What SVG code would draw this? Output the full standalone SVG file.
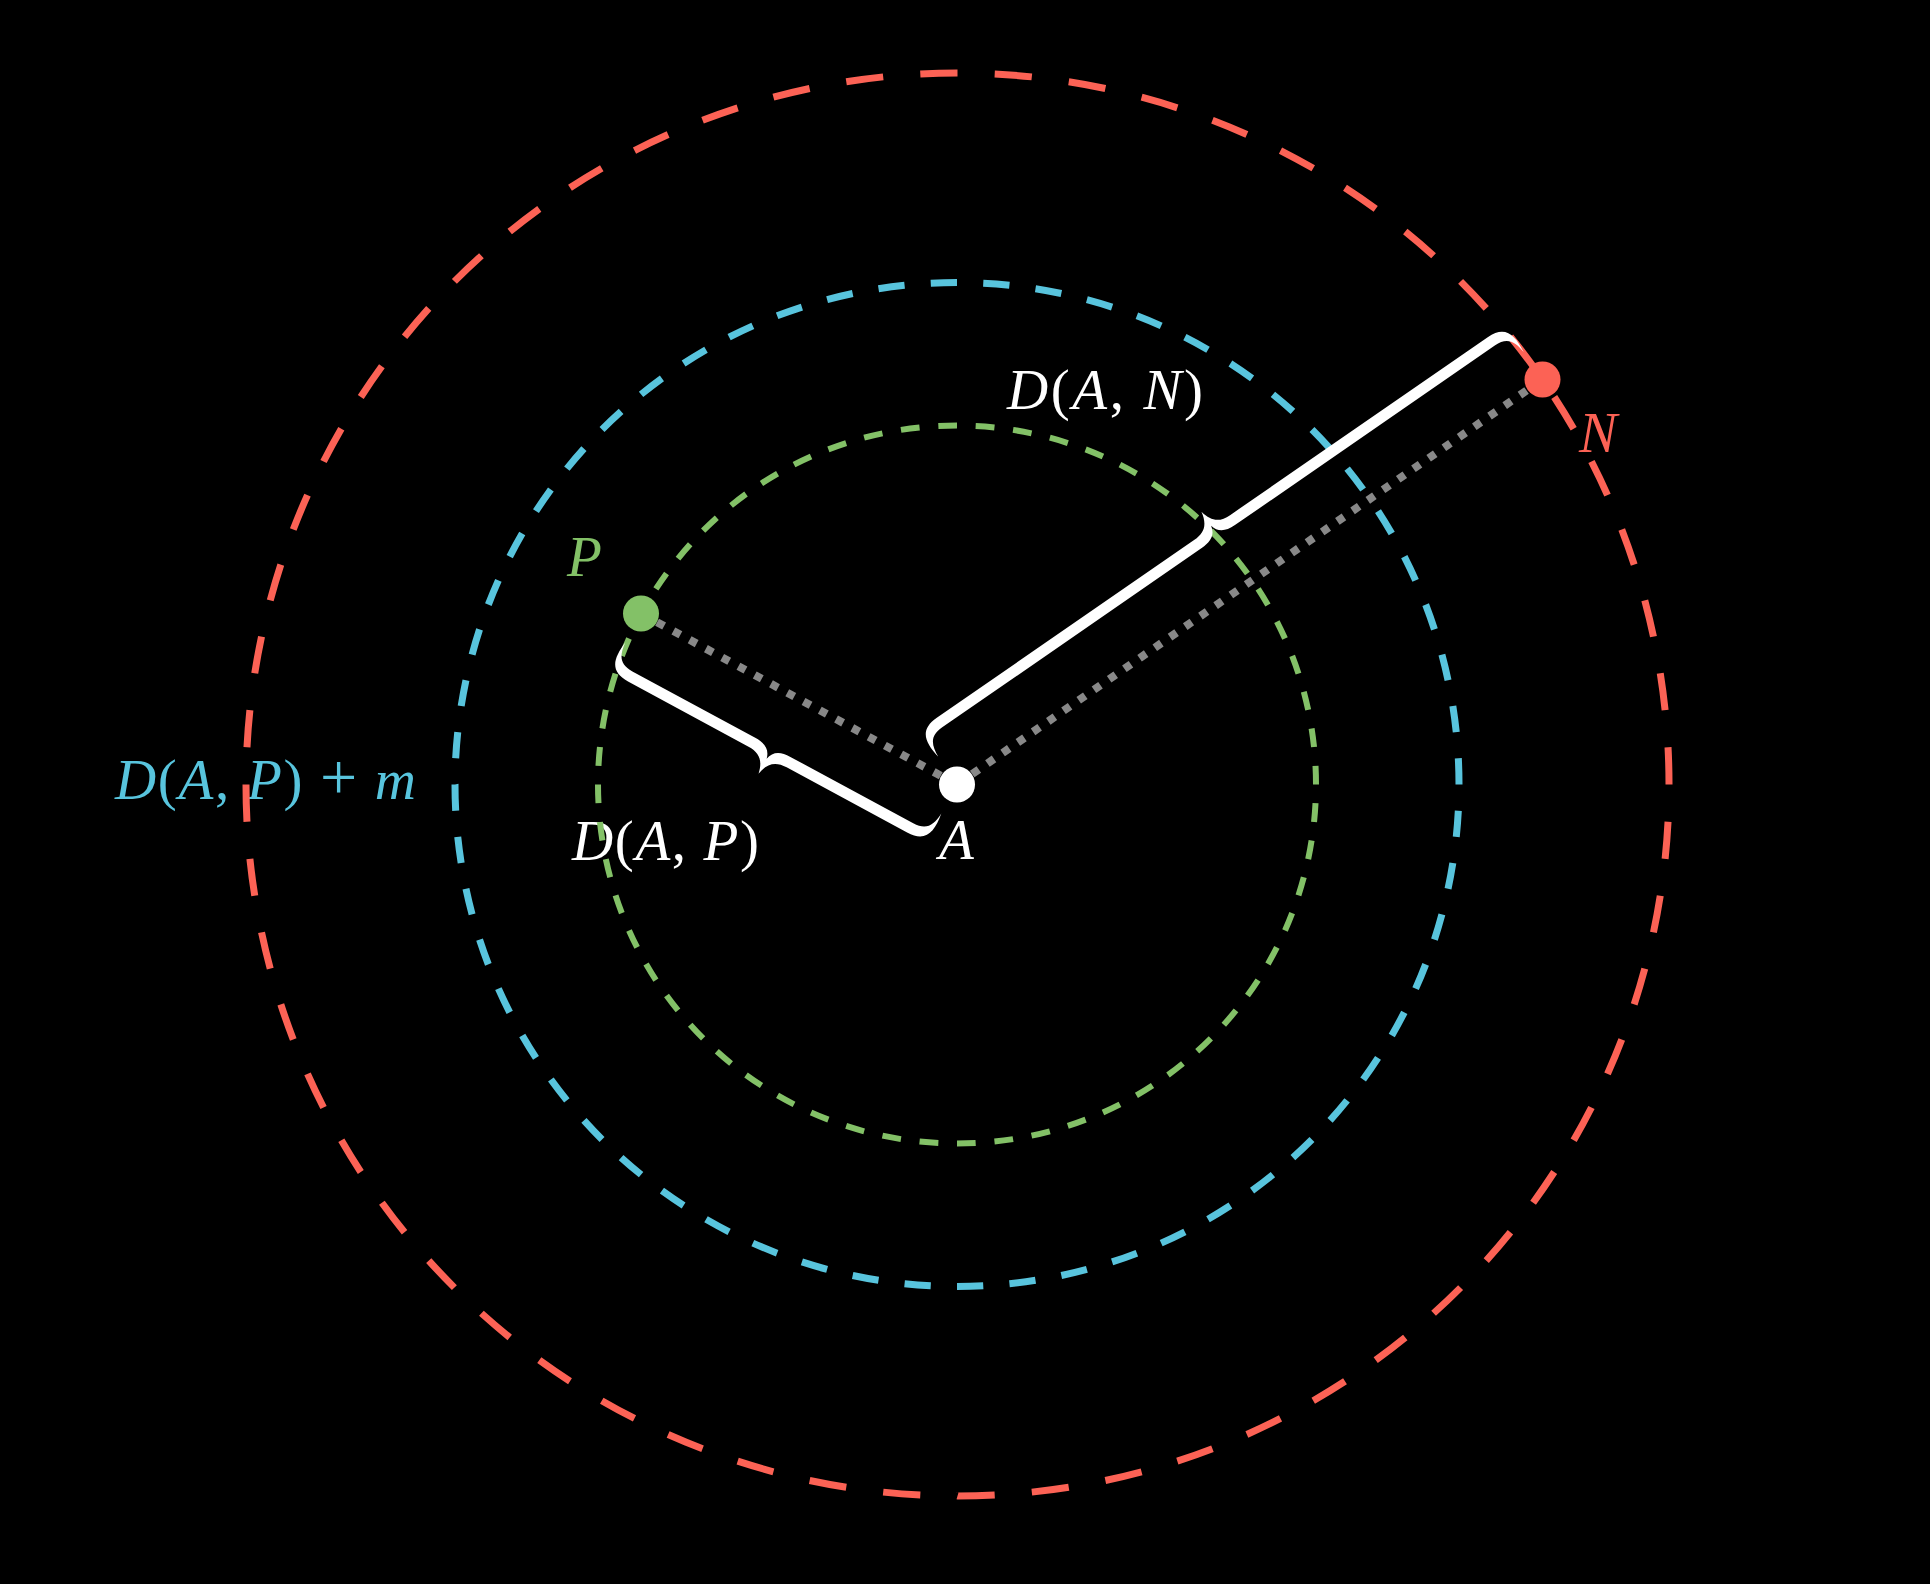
<svg xmlns="http://www.w3.org/2000/svg" width="1930" height="1584" viewBox="0 0 1930 1584">
<style>
.lbl{font-family:"Liberation Serif","DejaVu Serif",serif;font-style:italic;font-size:57px}
.up{font-style:normal}
.plus{font-style:normal;font-size:66px}
.ring{fill:none;stroke-linecap:butt}
.dot{fill:none;stroke:#888888;stroke-width:8;stroke-dasharray:8 10.5}
.brace{fill:#ffffff}
</style>
<rect x="0" y="0" width="1930" height="1584" fill="#000000"/>
<g id="labels">
<text id="label-A" class="lbl" x="939" y="859" fill="#ffffff">A</text>
<text id="label-P" class="lbl" x="567" y="576" fill="#83C167">P</text>
<text id="label-N" class="lbl" x="1579" y="452" fill="#FC6255">N</text>
<text id="label-DAN" class="lbl" x="1007" y="409" fill="#ffffff" textLength="196" lengthAdjust="spacing">D<tspan class="up">(</tspan>A<tspan class="up">, </tspan>N<tspan class="up">)</tspan></text>
<text id="label-DAP" class="lbl" x="572" y="860" fill="#ffffff" textLength="187" lengthAdjust="spacing">D<tspan class="up">(</tspan>A<tspan class="up">, </tspan>P<tspan class="up">)</tspan></text>
<text id="label-DAPm" class="lbl" x="115" y="799" fill="#58C4DD" textLength="301" lengthAdjust="spacing">D<tspan class="up">(</tspan>A<tspan class="up">, </tspan>P<tspan class="up">) </tspan><tspan class="plus">+</tspan> m</text>
</g>
<g id="circles">
<path id="circle-red" class="ring" stroke="#FC6255" stroke-width="7" pathLength="120" stroke-dasharray="1 1" d="M1669 784.5 A711.5 711.5 0 0 0 246 784.5 A711.5 711.5 0 0 0 1669 784.5"/>
<path id="circle-blue" class="ring" stroke="#58C4DD" stroke-width="7" pathLength="120" stroke-dasharray="1 1" d="M1459 784.5 A502 502 0 0 0 455 784.5 A502 502 0 0 0 1459 784.5"/>
<path id="circle-green" class="ring" stroke="#83C167" stroke-width="6" pathLength="120" stroke-dasharray="1 1" d="M1316 784.5 A359 359 0 0 0 598 784.5 A359 359 0 0 0 1316 784.5"/>
</g>
<g id="connectors">
<line id="line-AP" class="dot" x1="957" y1="784.5" x2="641" y2="613.5"/>
<line id="line-AN" class="dot" x1="957" y1="784.5" x2="1542.5" y2="379.5"/>
</g>
<g id="brace-AP" transform="translate(641 613.5) rotate(28.42)">
<path class="brace" d="M0,33 C-3,53 0,66 21,66 L158,66 C170,66 177,71 179.65,85 C182.3,71 189.3,66 201.3,66 L338.3,66 C359.3,66 362.3,53 359.3,33 C358.3,47 354.3,55 339.3,55 L199.65,55 C188,55 181.65,59 179.65,68 C177.65,59 171.3,55 159.65,55 L20,55 C5,55 1,47 0,33 Z"/>
</g>
<g id="brace-AN" transform="translate(1542.5 379.5) rotate(145.36)">
<path class="brace" d="M0,33 C-3,53 0,66 21,66 L334.15,66 C346.15,66 353.15,71 355.8,85 C358.45,71 365.45,66 377.45,66 L690.6,66 C711.6,66 714.6,53 711.6,33 C710.6,47 706.6,55 691.6,55 L375.8,55 C364.15,55 357.8,59 355.8,68 C353.8,59 347.45,55 335.8,55 L20,55 C5,55 1,47 0,33 Z"/>
</g>
<g id="node-A"><circle cx="957" cy="784.5" r="18" fill="#ffffff"/></g>
<g id="node-P"><circle cx="641" cy="613.5" r="18" fill="#83C167"/></g>
<g id="node-N"><circle cx="1542.5" cy="379.5" r="18" fill="#FC6255"/></g>
</svg>
